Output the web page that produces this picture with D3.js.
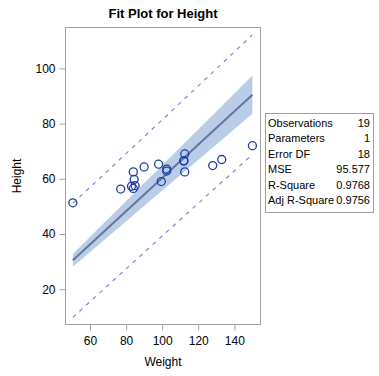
<!DOCTYPE html>
<html>
<head>
<meta charset="utf-8">
<script src="https://cdn.jsdelivr.net/npm/d3@7"></script>
<style>
body { margin: 0; background: #fff; }
text { font-family: "Liberation Sans", Arial, sans-serif; fill: #000; }
.frame { fill: none; stroke: #a0a0a0; stroke-width: 1; }
.axis path { display: none; }
.axis line { stroke: #a0a0a0; }
.axis text { font-size: 12px; }
</style>
</head>
<body>
<div id="chart"></div>
<script>
// sashelp.class style data
var weight = [112.5, 84, 98, 102.5, 102.5, 83, 84.5, 112.5, 84, 99.5, 50.5, 90, 77, 112, 150, 128, 133, 85, 112];
var height = [69, 56.5, 65.3, 62.8, 63.5, 57.3, 59.8, 62.5, 62.5, 59, 51.3, 64.3, 56.3, 66.5, 72, 64.8, 67, 57.5, 66.5];

// fit, confidence band and prediction limits read at a few weights
var bandWeight = [50.5, 75, 100, 125, 150];
var fitValue = [30.47, 45.25, 60.33, 75.41, 90.49];
var confLower = [28.15, 41.80, 55.73, 69.66, 83.59];
var confUpper = [32.79, 48.70, 64.93, 81.16, 97.39];
var predLower = [9.80, 24.42, 39.28, 54.08, 68.82];
var predUpper = [51.14, 66.08, 81.38, 96.74, 112.16];

var xTicks = [60, 80, 100, 120, 140];
var yTicks = [20, 40, 60, 80, 100];

var statLabels = ["Observations", "Parameters", "Error DF", "MSE", "R-Square", "Adj R-Square"];
var statValues = ["19", "1", "18", "95.577", "0.9768", "0.9756"];

var W = 379, H = 376;
var plot = {left: 65, top: 27, right: 260, bottom: 324};

var svg = d3.select("#chart").append("svg")
	.attr("width", W).attr("height", H);

var x = d3.scaleLinear().domain([46.15, 154.2]).range([plot.left, plot.right]);
var y = d3.scaleLinear().domain([7.4, 115]).range([plot.bottom, plot.top]);

svg.append("text")
	.attr("x", 163).attr("y", 18)
	.attr("text-anchor", "middle")
	.style("font-size", "13px").style("font-weight", "bold")
	.text("Fit Plot for Height");

svg.append("clipPath").attr("id", "clip")
	.append("rect")
	.attr("x", plot.left).attr("y", plot.top)
	.attr("width", plot.right - plot.left).attr("height", plot.bottom - plot.top);

var g = svg.append("g").attr("clip-path", "url(#clip)");

var band = bandWeight.map(function(w, i) { return {w: w, lo: confLower[i], hi: confUpper[i]}; });
g.append("path")
	.datum(band)
	.attr("fill", "#b9cde9")
	.attr("d", d3.area()
		.x(function(d) { return x(d.w); })
		.y0(function(d) { return y(d.lo); })
		.y1(function(d) { return y(d.hi); }));

function lineOf(vals) {
	return d3.line()
		.x(function(d, i) { return x(bandWeight[i]); })
		.y(function(d) { return y(d); })(vals);
}

g.append("path")
	.attr("d", lineOf(fitValue))
	.attr("fill", "none")
	.attr("stroke", "#64769c")
	.attr("stroke-width", 2);

[predLower, predUpper].forEach(function(p) {
	g.append("path")
		.attr("d", lineOf(p))
		.attr("fill", "none")
		.attr("stroke", "#7f89d4")
		.attr("stroke-width", 1.2)
		.attr("stroke-dasharray", "4,5");
});

g.selectAll(".pt")
	.data(weight).enter()
	.append("circle")
	.attr("class", "pt")
	.attr("cx", function(d) { return x(d); })
	.attr("cy", function(d, i) { return y(height[i]); })
	.attr("r", 4)
	.attr("fill", "none")
	.attr("stroke", "#1c3ea6")
	.attr("stroke-width", 1.3);

svg.append("rect")
	.attr("class", "frame")
	.attr("x", plot.left + 0.5).attr("y", plot.top + 0.5)
	.attr("width", plot.right - plot.left).attr("height", plot.bottom - plot.top);

svg.append("g")
	.attr("class", "axis")
	.attr("transform", "translate(0," + (plot.bottom + 0.5) + ")")
	.call(d3.axisBottom(x).tickValues(xTicks).tickSize(6).tickPadding(6));

svg.append("g")
	.attr("class", "axis")
	.attr("transform", "translate(" + (plot.left + 0.5) + ",0)")
	.call(d3.axisLeft(y).tickValues(yTicks).tickSize(6).tickPadding(4));

svg.append("text")
	.attr("x", 163).attr("y", 366)
	.attr("text-anchor", "middle")
	.style("font-size", "12px")
	.text("Weight");

svg.append("text")
	.attr("transform", "translate(21,176) rotate(-90)")
	.attr("text-anchor", "middle")
	.style("font-size", "12px")
	.text("Height");

// inset stats table
var tbl = {left: 265, top: 113, right: 373, bottom: 212, base: 126.5, rowH: 15.5};
svg.append("rect")
	.attr("x", tbl.left + 0.5).attr("y", tbl.top + 0.5)
	.attr("width", tbl.right - tbl.left).attr("height", tbl.bottom - tbl.top)
	.attr("fill", "#fff").attr("stroke", "#a0a0a0");

statLabels.forEach(function(lab, i) {
	var yy = tbl.base + tbl.rowH * i;
	svg.append("text")
		.attr("x", tbl.left + 3).attr("y", yy)
		.style("font-size", "11px")
		.text(lab);
	svg.append("text")
		.attr("x", tbl.right - 3).attr("y", yy)
		.attr("text-anchor", "end")
		.style("font-size", "11px")
		.text(statValues[i]);
});
</script>
</body>
</html>
